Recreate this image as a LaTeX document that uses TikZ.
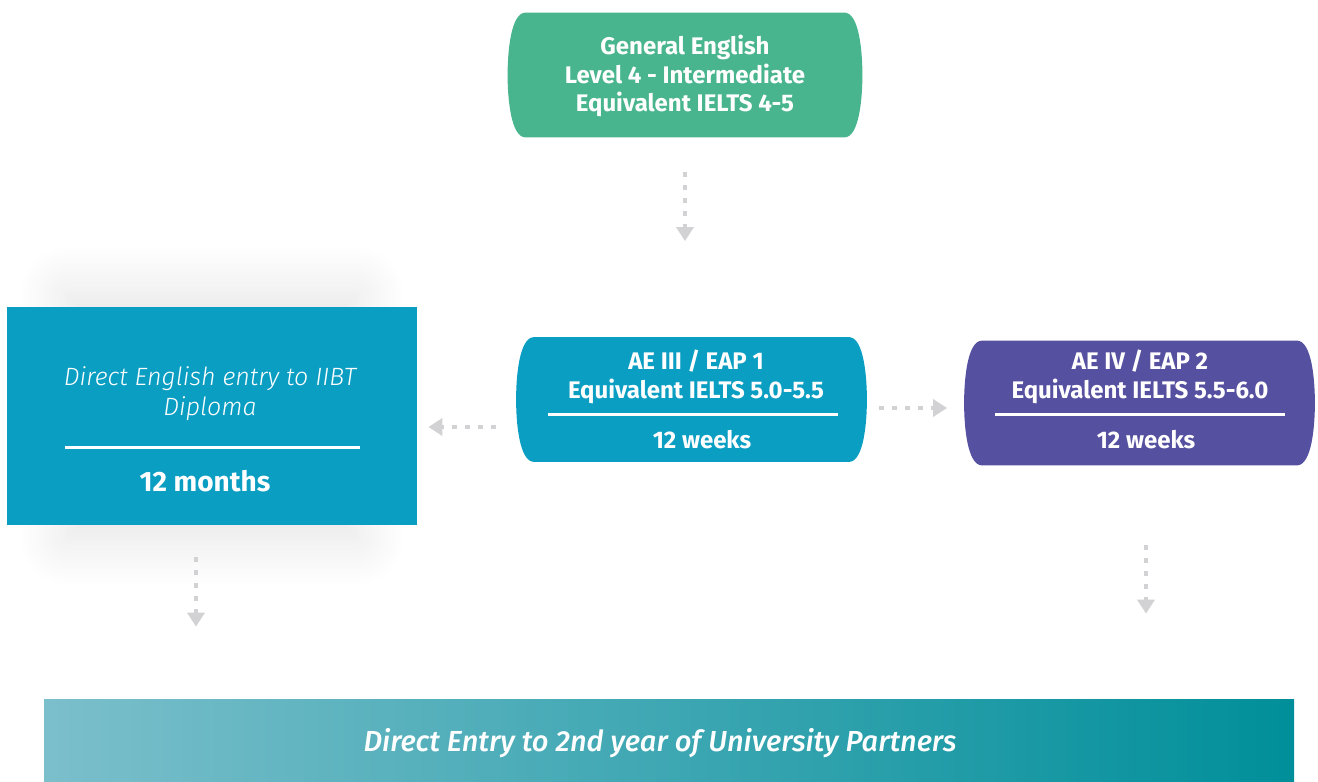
\documentclass[tikz,border=0pt]{standalone}
\usepackage{fontspec}
\setmainfont{Fira Sans}
\newfontfamily\lightfont{Fira Sans Light}
\newfontfamily\midfont{Fira Sans Medium}
\usetikzlibrary{arrows.meta,shadows.blur}
\definecolor{gecol}{HTML}{49B58F}
\definecolor{aecol}{HTML}{0B9EC3}
\definecolor{eapcol}{HTML}{5550A0}
\definecolor{flowgray}{HTML}{D2D2D4}
\definecolor{unileft}{HTML}{7BBFCB}
\definecolor{uniright}{HTML}{008F9A}
\pgfdeclarelayer{bg}\pgfsetlayers{bg,main}
% fill of a box with bulging left and right sides
\newcommand\pillfill[3]{%
\fill[#2]([xshift=#3]#1.north west)--([xshift=-#3]#1.north east)
 ..controls([xshift=-1.5pt]#1.north east)and([yshift=-20pt]#1.north east)..(#1.east)
 ..controls([yshift=20pt]#1.south east)and([xshift=-1.5pt]#1.south east)..([xshift=-#3]#1.south east)
 --([xshift=#3]#1.south west)
 ..controls([xshift=1.5pt]#1.south west)and([yshift=20pt]#1.south west)..(#1.west)
 ..controls([yshift=-20pt]#1.north west)and([xshift=1.5pt]#1.north west)..cycle;}
\begin{document}
\begin{tikzpicture}[x=0.5pt,y=-0.5pt,
pillbox/.style={minimum width=175pt,minimum height=62pt,inner sep=0pt},
title/.style={text=white,align=center,inner sep=0pt,font=\bfseries\fontsize{12}{14.25}\selectfont},
thin/.style={text=white,align=center,inner sep=0pt,font=\lightfont\itshape\fontsize{12.5}{15}\selectfont},
whiterule/.style={draw=white,line width=1.5pt},
flow/.style={draw=flowgray,line width=2pt,dash pattern=on 2.5pt off 4pt,-{Triangle[width=8.5pt,length=7pt]}}]
\useasboundingbox(0,0)rectangle(1318,782);
% boxes
\node[pillbox,minimum width=177pt](ge)at(685,75){};
\node[title]at(685,76){General English\\Level 4 - Intermediate\\Equivalent IELTS 4-5};
\node[pillbox](ae3)at(691.5,399.5){};
\node[title]at(696,377){AE III / EAP 1\\Equivalent IELTS 5.0-5.5};
\draw[whiterule](548,414)--(838,414);
\node[title]at(702,440){12 weeks};
\node[pillbox](ae4)at(1139.5,403){};
\node[title]at(1140,377){AE IV / EAP 2\\Equivalent IELTS 5.5-6.0};
\draw[whiterule](995,414)--(1285,414);
\node[title]at(1146,440){12 weeks};
\node[fill=aecol,minimum width=205pt,minimum height=109pt,inner sep=0pt](dip)at(212,416){};
\node[thin]at(210,394){Direct English entry to IIBT\\Diploma};
\draw[whiterule](65,447)--(360,447);
\node[title,font=\bfseries\fontsize{14}{16}\selectfont]at(205,481){12 months};
\node[left color=unileft,right color=uniright,minimum width=625pt,minimum height=41.5pt,inner sep=0pt,
 text=white,font=\midfont\itshape\fontsize{14.5}{16}\selectfont](uni)at(669,740.5){};
\node[text=white,inner sep=0pt,font=\midfont\itshape\fontsize{14.5}{16}\selectfont]at(660,743){Direct Entry to 2nd year of University Partners};
\begin{pgfonlayer}{bg}
\begin{scope}[shift={(dip.center)}]
\path[blur shadow={shadow xshift=0pt,shadow yshift=0pt,shadow blur radius=24pt,shadow blur steps=30,shadow opacity=11}](-145,-122)rectangle(145,122);
\end{scope}
\pillfill{ge}{gecol}{9pt}
\pillfill{ae3}{aecol}{9pt}
\pillfill{ae4}{eapcol}{9pt}
\end{pgfonlayer}
% connectors
\draw[flow,shorten <=17.5pt,shorten >=48pt](ge.south)--(ge.south|-ae3.north);
\draw[flow,shorten <=10pt,shorten >=5.5pt]([yshift=-13.75pt]ae3.west)--([yshift=-13.75pt]ae3.west-|dip.east);
\draw[flow,shorten <=6pt,shorten >=8.5pt]([yshift=-4.25pt]ae3.east)--([yshift=-4.25pt]ae3.east-|ae4.west);
\draw[flow,shorten <=16pt,shorten >=36pt]([xshift=-8pt]dip.south)--([xshift=-8pt]dip.south|-uni.north);
\draw[flow,shorten <=40pt,shorten >=42.5pt]([xshift=3.25pt]ae4.south)--([xshift=3.25pt]ae4.south|-uni.north);
\end{tikzpicture}
\end{document}
